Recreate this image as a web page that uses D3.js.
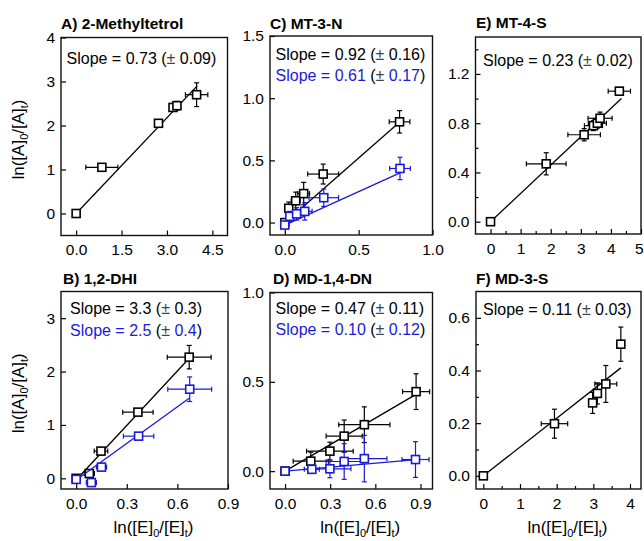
<!DOCTYPE html>
<html><head><meta charset="utf-8">
<script src="https://cdn.jsdelivr.net/npm/d3@7"></script>
<style>body{margin:0;background:#fff} svg{display:block}</style>
</head><body><svg id="c" width="644" height="541"></svg>
<script>
// ---------- DATA ----------
// Panel A: 2-Methyltetrol
const aX    = [0, 0.85, 2.72, 3.20, 3.33, 3.98];
const aY    = [0, 1.05, 2.05, 2.41, 2.45, 2.70];
const aXerr = [0.05, 0.53, 0.10, 0.10, 0.10, 0.37];
const aYerr = [0.03, 0.05, 0.05, 0.08, 0.10, 0.27];
const aFitX = [0, 4.0], aFitY = [0, 2.9];
const aSlope = ["0.73", "0.09"];

// Panel C: MT-3-N (black, blue)
const cX1    = [0, 0.027, 0.074, 0.128, 0.26, 0.777];
const cY1    = [0, 0.115, 0.175, 0.233, 0.39, 0.81];
const cXerr1 = [0.005, 0.02, 0.03, 0.04, 0.105, 0.07];
const cYerr1 = [0.01, 0.05, 0.07, 0.09, 0.08, 0.09];
const cFitX1 = [0.07, 0.78], cFitY1 = [0.07, 0.81];
const cX2    = [0, 0.034, 0.08, 0.135, 0.264, 0.78];
const cY2    = [-0.02, 0.05, 0.07, 0.09, 0.20, 0.435];
const cXerr2 = [0.005, 0.02, 0.03, 0.05, 0.10, 0.07];
const cYerr2 = [0.01, 0.04, 0.05, 0.07, 0.07, 0.09];
const cFitX2 = [0, 0.78], cFitY2 = [-0.02, 0.40];
const cSlope1 = ["0.92", "0.16"], cSlope2 = ["0.61", "0.17"];

// Panel E: MT-4-S
const eX    = [0, 1.85, 3.11, 3.42, 3.55, 3.64, 4.28];
const eY    = [0, 0.47, 0.706, 0.78, 0.80, 0.84, 1.06];
const eXerr = [0.05, 0.66, 0.54, 0.30, 0.30, 0.40, 0.37];
const eYerr = [0.01, 0.09, 0.05, 0.04, 0.04, 0.05, 0.03];
const eFitX = [0, 4.35], eFitY = [0, 1.0];
const eSlope = ["0.23", "0.02"];

// Panel B: 1,2-DHI (black, blue)
const bX1    = [0, 0.078, 0.147, 0.366, 0.67];
const bY1    = [0, 0.09, 0.51, 1.24, 2.27];
const bXerr1 = [0.01, 0.03, 0.04, 0.09, 0.13];
const bYerr1 = [0.02, 0.05, 0.05, 0.05, 0.22];
const bFitX1 = [0.02, 0.67], bFitY1 = [0.04, 2.25];
const bX2    = [0, 0.09, 0.15, 0.37, 0.673];
const bY2    = [-0.02, -0.08, 0.21, 0.79, 1.67];
const bXerr2 = [0.01, 0.03, 0.03, 0.09, 0.13];
const bYerr2 = [0.02, 0.05, 0.05, 0.04, 0.23];
const bFitX2 = [0, 0.67], bFitY2 = [-0.03, 1.50];
const bSlope1 = ["3.3", "0.3"], bSlope2 = ["2.5", "0.4"];

// Panel D: MD-1,4-DN (black, blue)
const dX1    = [0, 0.171, 0.298, 0.393, 0.527, 0.871];
const dY1    = [0, 0.056, 0.112, 0.196, 0.26, 0.445];
const dXerr1 = [0.01, 0.117, 0.155, 0.12, 0.17, 0.09];
const dYerr1 = [0.005, 0.05, 0.05, 0.09, 0.10, 0.10];
const dFitX1 = [0, 0.87], dFitY1 = [0, 0.43];
const dX2    = [0, 0.178, 0.298, 0.393, 0.527, 0.867];
const dY2    = [0, 0.01, 0.013, 0.054, 0.07, 0.065];
const dXerr2 = [0.01, 0.05, 0.14, 0.12, 0.15, 0.09];
const dYerr2 = [0.005, 0.02, 0.05, 0.10, 0.13, 0.10];
const dFitX2 = [0, 0.87], dFitY2 = [0, 0.065];
const dSlope1 = ["0.47", "0.11"], dSlope2 = ["0.10", "0.12"];

// Panel F: MD-3-S
const fX    = [0, 1.94, 2.98, 3.11, 3.34, 3.75];
const fY    = [0, 0.198, 0.277, 0.313, 0.349, 0.50];
const fXerr = [0.03, 0.36, 0.10, 0.10, 0.30, 0.05];
const fYerr = [0.005, 0.055, 0.04, 0.04, 0.07, 0.065];
const fFitX = [0, 3.75], fFitY = [0, 0.41];
const fSlope = ["0.11", "0.03"];

// Tick values
const aXTicks = [0, 1.5, 3.0, 4.5], aYTicks = [0, 1, 2, 3, 4];
const cXTicks = [0, 0.5, 1.0],      cYTicks = [0, 0.5, 1.0, 1.5];
const eXTicks = [0, 1, 2, 3, 4, 5], eYTicks = [0, 0.4, 0.8, 1.2];
const eXMinor = [-0.5, 0.5, 1.5, 2.5, 3.5, 4.5], eYMinor = [0.2, 0.6, 1.0, 1.4];
const bXTicks = [0, 0.3, 0.6, 0.9], bYTicks = [0, 1, 2, 3];
const dXTicks = [0, 0.3, 0.6, 0.9], dYTicks = [0, 0.5, 1.0];
const fXTicks = [0, 1, 2, 3, 4],    fYTicks = [0, 0.2, 0.4, 0.6];
const fXMinor = [0.5, 1.5, 2.5, 3.5], fYMinor = [0.1, 0.3, 0.5];

const titles = ["A) 2-Methyltetrol", "C) MT-3-N", "E) MT-4-S", "B) 1,2-DHI", "D) MD-1,4-DN", "F) MD-3-S"];

// ---------- DRAW ----------
const FONT = "'Liberation Sans', Arial, Helvetica, sans-serif";
const BLK = "#000", BLU = "#1a1ad8";
const svg = d3.select("#c");

const ser = (x, y, xe, ye, fx, fy, color) => ({x, y, xe, ye, fx, fy, color});

const panels = [
  {box:[61,227.5,37.5,235.5], xd:[-0.5,5], yd:[-0.5,4], xt:aXTicks, yt:aYTicks, xf:".1f", yf:"d",
   title:titles[0], tpos:[61,29], spos:[66.5,64],
   series:[ser(aX,aY,aXerr,aYerr,aFitX,aFitY,BLK)], slopes:[[aSlope,BLK]], ylab:true},
  {box:[270,432.5,36,235], xd:[-0.1,1.0], yd:[-0.1,1.5], xt:cXTicks, yt:cYTicks, xf:".1f", yf:".1f",
   title:titles[1], tpos:[270,29], spos:[275.5,59.5],
   series:[ser(cX1,cY1,cXerr1,cYerr1,cFitX1,cFitY1,BLK), ser(cX2,cY2,cXerr2,cYerr2,cFitX2,cFitY2,BLU)],
   slopes:[[cSlope1,BLK],[cSlope2,BLU]]},
  {box:[475.5,641,37,234], xd:[-0.5,5], yd:[-0.1,1.5], xt:eXTicks, yt:eYTicks, xf:"d", yf:".1f",
   xm:eXMinor, ym:eYMinor, lastEnd:true,
   title:titles[2], tpos:[476,28], spos:[483,66],
   series:[ser(eX,eY,eXerr,eYerr,eFitX,eFitY,BLK)], slopes:[[eSlope,BLK]]},
  {box:[61,228,291.5,489], xd:[-0.09,0.9], yd:[-0.2,3.5], xt:bXTicks, yt:bYTicks, xf:".1f", yf:"d",
   title:titles[3], tpos:[63,283.5], spos:[70,314],
   series:[ser(bX1,bY1,bXerr1,bYerr1,bFitX1,bFitY1,BLK), ser(bX2,bY2,bXerr2,bYerr2,bFitX2,bFitY2,BLU)],
   slopes:[[bSlope1,BLK],[bSlope2,BLU]], ylab:true, xlab:true},
  {box:[270,432.5,292.5,489], xd:[-0.1,0.98], yd:[-0.1,1.0], xt:dXTicks, yt:dYTicks, xf:".1f", yf:".1f",
   title:titles[4], tpos:[273,283.5], spos:[275.5,313.5],
   series:[ser(dX1,dY1,dXerr1,dYerr1,dFitX1,dFitY1,BLK), ser(dX2,dY2,dXerr2,dYerr2,dFitX2,dFitY2,BLU)],
   slopes:[[dSlope1,BLK],[dSlope2,BLU]], xlab:true},
  {box:[476,641,291.5,489], xd:[-0.2,4.3], yd:[-0.05,0.7], xt:fXTicks, yt:fYTicks, xf:"d", yf:".1f",
   xm:fXMinor, ym:fYMinor,
   title:titles[5], tpos:[476,283.5], spos:[483,314.5],
   series:[ser(fX,fY,fXerr,fYerr,fFitX,fFitY,BLK)], slopes:[[fSlope,BLK]], xlab:true}
];

function styleAxis(g){
  g.select(".domain").remove();
  g.selectAll(".tick line").attr("stroke","#000").attr("stroke-width",1.2);
  g.selectAll(".tick text").attr("fill","#000").style("font-family",FONT).style("font-size","15.5px");
}

panels.forEach(p => {
  const [L,R,T,B] = p.box;
  const x = d3.scaleLinear().domain(p.xd).range([L,R]);
  const y = d3.scaleLinear().domain(p.yd).range([B,T]);
  const g = svg.append("g");

  // axes (inward ticks)
  const xa = g.append("g").attr("transform",`translate(0,${B})`)
    .call(d3.axisBottom(x).tickValues(p.xt).tickFormat(d3.format(p.xf)).tickSize(-5).tickPadding(8.5))
    .call(styleAxis);
  if (p.lastEnd) {
    xa.selectAll(".tick text").filter((d,i,n)=>i===n.length-1)
      .attr("text-anchor","end").attr("dx",2);
  }
  g.append("g").attr("transform",`translate(${L},0)`)
    .call(d3.axisLeft(y).tickValues(p.yt).tickFormat(d3.format(p.yf)).tickSize(-5).tickPadding(6))
    .call(styleAxis);
  if (p.xm) g.append("g").attr("transform",`translate(0,${B})`)
    .call(d3.axisBottom(x).tickValues(p.xm.filter(v=>v>p.xd[0]&&v<p.xd[1])).tickFormat("").tickSize(-3))
    .call(styleAxis);
  if (p.ym) g.append("g").attr("transform",`translate(${L},0)`)
    .call(d3.axisLeft(y).tickValues(p.ym.filter(v=>v>p.yd[0]&&v<p.yd[1])).tickFormat("").tickSize(-3))
    .call(styleAxis);

  // series
  p.series.forEach(s => {
    const c = s.color;
    const idx = d3.range(s.x.length);
    g.append("line")
      .attr("x1",x(s.fx[0])).attr("y1",y(s.fy[0]))
      .attr("x2",x(s.fx[1])).attr("y2",y(s.fy[1]))
      .attr("stroke",c).attr("stroke-width",1.3);
    const eb = g.append("g").attr("stroke",c).attr("stroke-width",1.2).attr("fill","none");
    const cap = 2.5;
    idx.forEach(i => {
      const px = x(s.x[i]), py = y(s.y[i]);
      const x0 = x(s.x[i]-s.xe[i]), x1 = x(s.x[i]+s.xe[i]);
      const y0 = y(s.y[i]-s.ye[i]), y1 = y(s.y[i]+s.ye[i]);
      eb.append("line").attr("x1",x0).attr("x2",x1).attr("y1",py).attr("y2",py);
      eb.append("line").attr("x1",px).attr("x2",px).attr("y1",y0).attr("y2",y1);
      eb.append("line").attr("x1",x0).attr("x2",x0).attr("y1",py-cap).attr("y2",py+cap);
      eb.append("line").attr("x1",x1).attr("x2",x1).attr("y1",py-cap).attr("y2",py+cap);
      eb.append("line").attr("x1",px-cap).attr("x2",px+cap).attr("y1",y0).attr("y2",y0);
      eb.append("line").attr("x1",px-cap).attr("x2",px+cap).attr("y1",y1).attr("y2",y1);
    });
    g.append("g").selectAll("rect").data(idx).join("rect")
      .attr("x",i=>x(s.x[i])-4).attr("y",i=>y(s.y[i])-4)
      .attr("width",8).attr("height",8)
      .attr("fill","#fff").attr("stroke",c).attr("stroke-width",1.6);
  });

  // frame
  g.append("rect").attr("x",L).attr("y",T).attr("width",R-L).attr("height",B-T)
    .attr("fill","none").attr("stroke","#111").attr("stroke-width",1.4);

  // title
  g.append("text").attr("x",p.tpos[0]).attr("y",p.tpos[1]).text(p.title)
    .style("font-family",FONT).style("font-size","15.5px").style("font-weight","bold").attr("fill","#000");

  // slope text
  p.slopes.forEach(([sv,col],k) => {
    const t = g.append("text").attr("x",p.spos[0]).attr("y",p.spos[1]+k*21.5)
      .style("font-family",FONT).style("font-size","16px");
    t.append("tspan").attr("fill",col).text(`Slope = ${sv[0]} `);
    t.append("tspan").attr("fill","#000").text("(");
    t.append("tspan").attr("fill","#444").text("\u00B1");
    t.append("tspan").attr("fill",col).text(` ${sv[1]}`);
    t.append("tspan").attr("fill","#000").text(")");
  });

  // axis titles
  if (p.ylab) {
    const t = g.append("text")
      .attr("transform",`translate(24,${(T+B)/2+3}) rotate(-90)`)
      .attr("text-anchor","middle").style("font-family",FONT).style("font-size","17px").attr("fill","#000");
    t.append("tspan").text("ln([A]");
    t.append("tspan").attr("dy",4).style("font-size","11px").text("0");
    t.append("tspan").attr("dy",-4).text("/[A]");
    t.append("tspan").attr("dy",4).style("font-size","11px").text("t");
    t.append("tspan").attr("dy",-4).text(")");
  }
  if (p.xlab) {
    const t = g.append("text").attr("x",(L+R)/2+9).attr("y",533)
      .attr("text-anchor","middle").style("font-family",FONT).style("font-size","17px").attr("fill","#000");
    t.append("tspan").text("ln([E]");
    t.append("tspan").attr("dy",4).style("font-size","11px").text("0");
    t.append("tspan").attr("dy",-4).text("/[E]");
    t.append("tspan").attr("dy",4).style("font-size","11px").text("t");
    t.append("tspan").attr("dy",-4).text(")");
  }
});
</script>
</body></html>
